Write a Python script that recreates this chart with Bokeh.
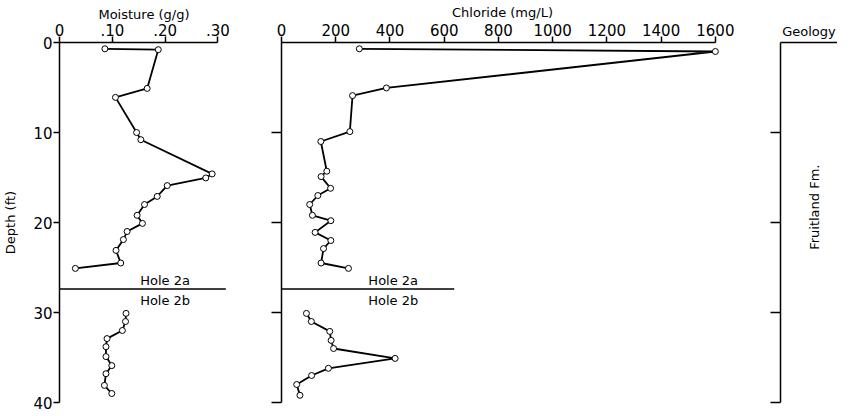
from math import pi
from bokeh.plotting import figure
from bokeh.layouts import row
from bokeh.models import Range1d, FixedTicker, Label
from bokeh.embed import file_html
from bokeh.resources import INLINE

# ---- data ----
moisture_2a_depth = [0.7, 0.8, 5.1, 6.1, 10.0, 10.8, 14.6, 15.05, 15.9, 17.1, 18.0, 19.2, 20.1, 21.0, 21.9, 23.1, 24.5, 25.1]
moisture_2a = [0.086, 0.187, 0.166, 0.106, 0.146, 0.154, 0.289, 0.277, 0.204, 0.185, 0.161, 0.147, 0.157, 0.128, 0.121, 0.107, 0.116, 0.030]
moisture_2b_depth = [30.1, 31.0, 32.0, 32.9, 33.8, 34.9, 35.9, 36.8, 38.1, 39.0]
moisture_2b = [0.126, 0.125, 0.119, 0.090, 0.088, 0.088, 0.099, 0.088, 0.085, 0.099]

chloride_2a_depth = [0.7, 1.0, 5.05, 5.9, 9.9, 11.0, 14.3, 14.9, 16.2, 17.0, 18.0, 19.2, 19.8, 21.1, 22.0, 22.9, 24.5, 25.1]
chloride_2a = [287, 1600, 387, 262, 252, 145, 167, 146, 181, 134, 104, 114, 182, 124, 182, 155, 146, 247]
chloride_2b_depth = [30.1, 31.0, 32.1, 33.1, 34.0, 35.1, 36.2, 37.0, 38.0, 39.2]
chloride_2b = [92, 110, 178, 183, 192, 419, 173, 111, 56, 68]

depth_ticks = [0, 10, 20, 30, 40]
moisture_ticks = [0, 0.1, 0.2, 0.3]
moisture_tick_labels = ["0", ".10", ".20", ".30"]
chloride_ticks = [0, 200, 400, 600, 800, 1000, 1200, 1400, 1600]
chloride_tick_labels = [str(t) for t in chloride_ticks]
hole_boundary_depth = 27.4
hole_names = ["Hole 2a", "Hole 2b"]
geology_unit = "Fruitland Fm."

FONT = "DejaVu Sans"
H = 412
TOP = 42
BOTTOM = 10

y_range = Range1d(40, 0)


def base(width, x_range, left, right):
    p = figure(width=width, height=H, x_range=x_range, y_range=y_range,
               x_axis_location="above", output_backend="svg", toolbar_location=None,
               min_border_left=left, min_border_right=right,
               min_border_top=TOP, min_border_bottom=BOTTOM)
    p.outline_line_color = None
    p.grid.visible = False
    p.background_fill_color = "white"
    p.border_fill_color = "white"
    for ax in (p.xaxis[0], p.yaxis[0]):
        ax.axis_line_color = "black"
        ax.axis_line_width = 1.5
        ax.major_tick_line_color = "black"
        ax.major_tick_line_width = 1.5
        ax.minor_tick_line_color = None
        ax.major_tick_in = 0
        ax.major_tick_out = 6
        ax.major_label_text_font = FONT
        ax.major_label_text_font_size = "15px"
        ax.major_label_text_color = "black"
        ax.major_label_standoff = 1
        ax.axis_label_text_font = FONT
        ax.axis_label_text_font_style = "normal"
        ax.axis_label_text_font_size = "13px"
        ax.axis_label_text_color = "black"
    return p


def blank_labels(ax, ticks):
    ax.major_label_overrides = {t: "" for t in ticks}


def profile(p, xs, ys):
    p.line(xs, ys, line_color="black", line_width=1.8)
    p.scatter(xs, ys, size=6, fill_color="white", line_color="black", line_width=1)


def holes(p, x, x_end):
    p.segment(x0=[0], y0=[hole_boundary_depth], x1=[x_end], y1=[hole_boundary_depth],
              line_color="black", line_width=1.5)
    for name, dy in zip(hole_names, (-0.95, 1.3)):
        p.add_layout(Label(x=x, y=hole_boundary_depth + dy, text=name, text_font=FONT,
                           text_font_size="13px", text_align="center",
                           text_baseline="middle", text_color="black"))


# ---- moisture panel ----
p1 = base(233, Range1d(0, 0.32), 53, 5)
p1.xaxis.bounds = (0, 0.3)
p1.xaxis.ticker = FixedTicker(ticks=moisture_ticks)
p1.xaxis.major_label_overrides = dict(zip(moisture_ticks, moisture_tick_labels))
p1.xaxis.axis_label = "Moisture (g/g)"
p1.xaxis.axis_label_standoff = -1
p1.yaxis.ticker = FixedTicker(ticks=depth_ticks)
p1.yaxis.axis_label = "Depth (ft)"
p1.yaxis.axis_label_standoff = 12
holes(p1, 0.2, 0.315)
profile(p1, moisture_2a, moisture_2a_depth)
profile(p1, moisture_2b, moisture_2b_depth)

# ---- chloride panel ----
p2 = base(510, Range1d(0, 1630), 48, 20)
p2.xaxis.bounds = (0, 1600)
p2.xaxis.ticker = FixedTicker(ticks=chloride_ticks)
p2.xaxis.major_label_overrides = dict(zip(chloride_ticks, chloride_tick_labels))
p2.xaxis.axis_label = "Chloride (mg/L)"
p2.xaxis.axis_label_standoff = 1
p2.yaxis.ticker = FixedTicker(ticks=depth_ticks[1:])
p2.yaxis.major_tick_out = 10
blank_labels(p2.yaxis[0], depth_ticks[1:])
holes(p2, 412, 637)
profile(p2, chloride_2a, chloride_2a_depth)
profile(p2, chloride_2b, chloride_2b_depth)

# ---- geology panel ----
p3 = base(94, Range1d(0, 1), 37, 0)
p3.xaxis.ticker = FixedTicker(ticks=[])
p3.xaxis.axis_label = "Geology"
p3.xaxis.axis_label_standoff = 4
p3.yaxis.ticker = FixedTicker(ticks=depth_ticks[1:])
p3.yaxis.major_tick_out = 10
blank_labels(p3.yaxis[0], depth_ticks[1:])
p3.add_layout(Label(x=0.6, y=18.3, text=geology_unit, angle=pi / 2, text_font=FONT,
                    text_font_size="13px", text_align="center", text_baseline="middle",
                    text_color="black"))

layout = row(p1, p2, p3)
open("out.html", "w").write(file_html(layout, INLINE))
